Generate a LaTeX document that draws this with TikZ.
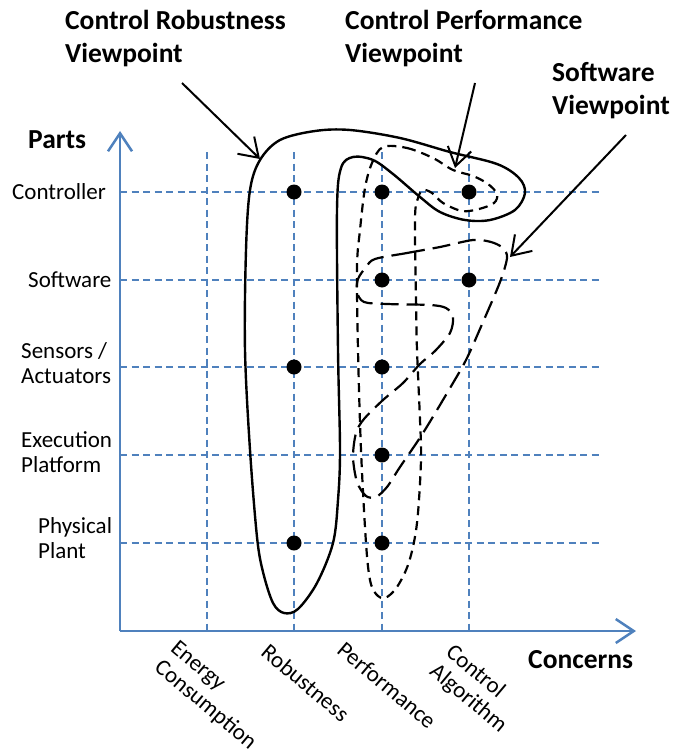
\documentclass[tikz,border=0pt]{standalone}
\usepackage{fontspec}
\setmainfont{Carlito}
\usetikzlibrary{arrows.meta}
\definecolor{axisblue}{HTML}{4F81BD}
\begin{document}
\begin{tikzpicture}[x=1pt,y=-1pt,
  gridline/.style={draw=axisblue, line width=1.9pt, dash pattern=on 7pt off 4.5pt},
  axisline/.style={draw=axisblue, line width=2.5pt, -{Straight Barb[length=18pt,width=24pt,line width=2.5pt]}},
  pointer/.style={draw=black, line width=2pt, -{Straight Barb[length=18pt,width=24pt,line width=2pt]}},
  dotnode/.style={circle, fill=black, inner sep=0pt, minimum size=15pt},
  partlabel/.style={anchor=base west, inner sep=0pt, align=left, font=\fontsize{23}{24.5}\selectfont},
  title/.style={anchor=base west, inner sep=0pt, align=left, font=\fontsize{27.5}{33}\selectfont\bfseries},
  concern/.style={anchor=north west, inner sep=0pt, align=left, rotate=-40, font=\fontsize{23}{25}\selectfont},
  solidview/.style={draw=black, line width=2.4pt},
  perfview/.style={draw=black, line width=2.2pt, dash pattern=on 9pt off 6pt},
  swview/.style={draw=black, line width=2.2pt, dash pattern=on 18pt off 8pt}
]
\useasboundingbox (0,0) rectangle (673,749);

% grid
\foreach \x in {207,294,382,469} \draw[gridline] (\x,152) -- (\x,631);
\foreach \y in {192,280,367,455,543} \draw[gridline] (120,\y) -- (600,\y);

% axes
\coordinate (O) at (120,631);
\coordinate (ytip) at (120,131);
\coordinate (xtip) at (636,631);
\draw[axisline] (O) -- (ytip);
\draw[axisline] (O) -- (xtip);

% axis titles
\node[title] (parts) at (28,148) {Parts};
\node[title] (concerns) at (528,668) {Concerns};

% part labels
\node[partlabel] (l1) at (12,199) {Controller};
\node[partlabel] (l2) at (28,287) {Software};
\node[partlabel] (l3) at (21,383) {Sensors /\\Actuators};
\node[partlabel] (l4) at (21,472) {Execution\\Platform};
\node[partlabel] (l5) at (38,558) {Physical\\Plant};

% concern labels
\node[concern] (c1) at (179,639) {Energy\\Consumption};
\node[concern] (c2) at (270,642) {Robustness};
\node[concern] (c3) at (346,640) {Performance};
\node[concern] (c4) at (455,642) {Control\\Algorithm};

% dots
\node[dotnode] (d11) at (294,192) {};
\node[dotnode] (d12) at (382,192) {};
\node[dotnode] (d13) at (469,192) {};
\node[dotnode] (d22) at (382,280) {};
\node[dotnode] (d23) at (469,280) {};
\node[dotnode] (d31) at (294,367) {};
\node[dotnode] (d32) at (382,367) {};
\node[dotnode] (d42) at (382,455) {};
\node[dotnode] (d51) at (294,543) {};
\node[dotnode] (d52) at (382,543) {};

% control robustness viewpoint
\draw[solidview] plot[smooth cycle, tension=0.55] coordinates {
 (260,160) (280,140) (315,131) (350,130) (400,138) (450,152) (497,164) (519,178) (525,193)
 (515,210) (490,220) (465,220) (440,212) (420,197) (393,174) (373,160) (353,157) (341,168)
 (337,210) (338,350) (340,450) (338,500) (333,543) (317,583) (298,609) (284,613) (273,603)
 (263,572) (257,537) (250,450) (245,350) (246,250) (250,190)};

% control performance viewpoint
\draw[perfview] plot[smooth cycle, tension=0.55] coordinates {
 (383,147) (407,148) (433,158) (453,170) (473,176) (488,184) (497,194) (494,203) (479,209)
 (462,211) (443,203) (432,193) (423,190) (418,198) (415,218) (416,300) (417,350) (420,420)
 (421,460) (417,523) (409,562) (397,587) (385,598) (376,594) (370,580) (366,543) (361,450)
 (358,350) (357,267) (360,230) (365,188) (372,163)};

% software viewpoint
\draw[swview] plot[smooth cycle, tension=0.5] coordinates {
 (375,259) (407,253) (440,247) (473,240) (491,242) (503,248) (507,258) (500,282) (483,322)
 (467,358) (453,383) (423,433) (400,467) (387,487) (376,497) (366,496) (357,482) (353,457)
 (356,433) (364,419) (383,400) (403,383) (420,364) (435,351) (450,333) (453,317) (446,308)
 (430,305) (387,304) (364,302) (357,292) (358,279) (366,267)};

% titles
\node[title] (t1) at (65,63) {Control Robustness\\Viewpoint};
\node[title] (t2) at (345,63) {Control Performance\\Viewpoint};
\node[title] (t3) at (552,115) {Software\\Viewpoint};

% pointers
\coordinate (p1s) at (182,83);
\coordinate (p1e) at (260,159);
\coordinate (p2s) at (475,83);
\coordinate (p2e) at (455,168);
\coordinate (p3s) at (626,135);
\coordinate (p3e) at (510,257);
\draw[pointer] (p1s) -- (p1e);
\draw[pointer] (p2s) -- (p2e);
\draw[pointer] (p3s) -- (p3e);
\end{tikzpicture}
\end{document}
